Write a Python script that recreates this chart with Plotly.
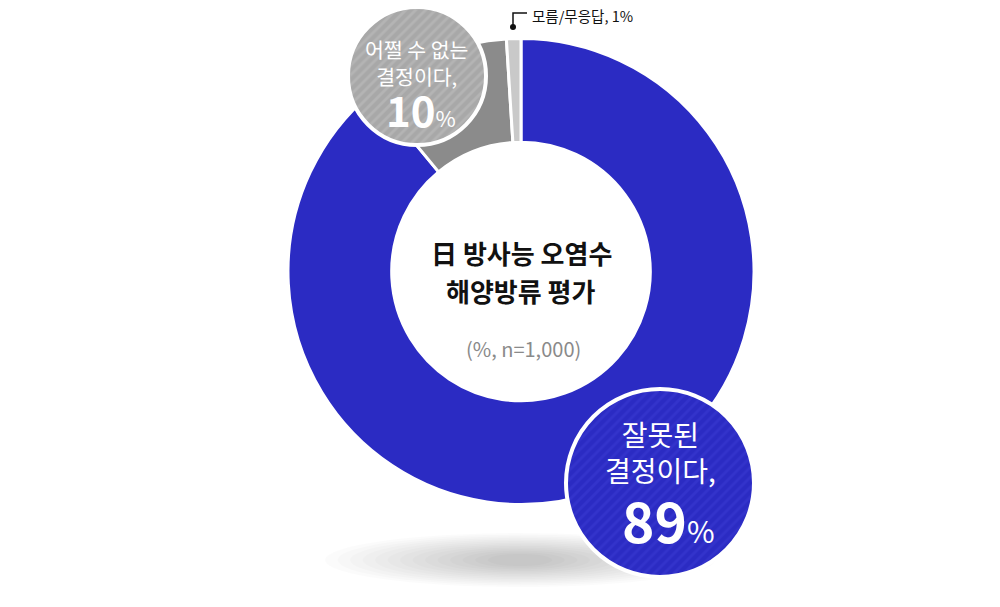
import plotly.graph_objects as go

# survey result: 日 방사능 오염수 해양방류 평가 (%, n=1,000)
labels = ["잘못된 결정이다", "어쩔 수 없는 결정이다", "모름/무응답"]
shares = [89, 10, 1]
colors = ["#2b2bc3", "#8b8b8b", "#c9c9c9"]

title_lines = ["日 방사능 오염수", "해양방류 평가"]
note = "(%, n=1,000)"

W, H = 1000, 607
FONT = "Noto Sans CJK KR"


def px(x):
    return x / W


def py(y):
    return 1 - y / H


def clamp(v):
    return min(max(v, 0.0), 1.0)


def circle_domain(cx, cy, r):
    return dict(x=[clamp(px(cx - r)), clamp(px(cx + r))],
                y=[clamp(py(cy + r)), clamp(py(cy - r))])


fig = go.Figure()

# main donut
fig.add_trace(go.Pie(
    labels=labels,
    values=shares,
    hole=0.555,
    sort=False,
    direction="clockwise",
    rotation=0,
    marker=dict(colors=colors, line=dict(color="white", width=3)),
    textinfo="none",
    hoverinfo="label+value",
    showlegend=False,
    domain=circle_domain(521, 271.5, 233),
))

# label bubbles (single-slice pies with stripes)
fig.add_trace(go.Pie(
    labels=[labels[1]],
    values=[shares[1]],
    marker=dict(colors=["#a8a8a8"], line=dict(color="white", width=4),
                pattern=dict(shape="/", bgcolor="#a8a8a8", fgcolor="#b4b4b4",
                             size=7, solidity=0.4)),
    textinfo="none",
    hoverinfo="skip",
    showlegend=False,
    domain=circle_domain(417, 76, 69),
))
fig.add_trace(go.Pie(
    labels=[labels[0]],
    values=[shares[0]],
    marker=dict(colors=["#2b2bc3"], line=dict(color="white", width=4),
                pattern=dict(shape="/", bgcolor="#2b2bc3", fgcolor="#3333cb",
                             size=7, solidity=0.4)),
    textinfo="none",
    hoverinfo="skip",
    showlegend=False,
    domain=circle_domain(660, 483, 94),
))

# soft shadow under the donut
shapes = []
steps = 14
for i in range(steps):
    rx = 195 - i * 12.5
    ry = 27 - i * 1.6
    shapes.append(dict(type="circle", xref="paper", yref="paper", layer="below",
                       x0=px(520 - rx), x1=px(520 + rx), y0=py(560 + ry), y1=py(560 - ry),
                       fillcolor="rgba(0,0,0,0.015)", line=dict(width=0)))

# leader line for the small slice
shapes.append(dict(type="path", xref="paper", yref="paper",
                   path=f"M {px(513)},{py(27)} L {px(513)},{py(13)} L {px(527)},{py(13)}",
                   line=dict(color="#111111", width=1.5)))
shapes.append(dict(type="circle", xref="paper", yref="paper",
                   x0=px(510), x1=px(516), y0=py(30), y1=py(24),
                   fillcolor="#111111", line=dict(width=0)))


def ann(x, y, text, size, color, bold=False, xanchor="center", yanchor="middle"):
    if bold:
        text = "<b>" + text + "</b>"
    return dict(x=px(x), y=py(y), xref="paper", yref="paper", text=text,
                showarrow=False, xanchor=xanchor, yanchor=yanchor,
                font=dict(family=FONT, size=size, color=color))


annotations = [
    ann(530, 15, f"{labels[2]}, {shares[2]}%", 14.5, "#111111", xanchor="left"),
    ann(416, 62, "어쩔 수 없는<br>결정이다,", 20.5, "white"),
    ann(421, 108, f"<b>{shares[1]}</b><span style='font-size:22px'>%</span>", 42, "white"),
    ann(660, 452, "잘못된<br>결정이다,", 28, "white"),
    ann(668, 519, f"<b>{shares[0]}</b><span style='font-size:30px'>%</span>", 55, "white"),
    ann(521, 252, title_lines[0], 26, "#111111", bold=True),
    ann(521, 290, title_lines[1], 26, "#111111", bold=True),
    ann(523, 348, note, 20, "#8a8a8a"),
]

fig.update_layout(
    width=W,
    height=H,
    margin=dict(l=0, r=0, t=0, b=0),
    paper_bgcolor="white",
    plot_bgcolor="white",
    shapes=shapes,
    annotations=annotations,
    font=dict(family=FONT),
)

# the page body has a default margin; drop it so the figure sits at the corner
fig.write_html("out.html", config={"displayModeBar": False},
               post_script="document.body.style.margin = '0';")
